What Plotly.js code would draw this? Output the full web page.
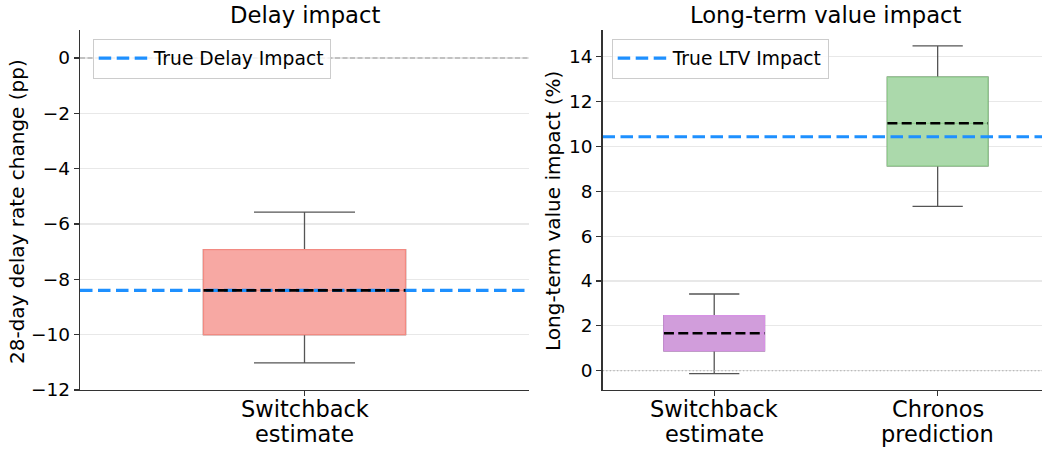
<!DOCTYPE html>
<html><head><meta charset="utf-8">
<script src="https://cdn.plot.ly/plotly-3.0.1.min.js"></script>
<style>html,body{margin:0;padding:0;background:#fff}</style>
</head><body><div id="chart" style="width:1042px;height:449px"></div>
<script>
// ---- Delay impact panel (pp) ----
const delayCategories = ["Switchback<br>estimate"];
const delayPositions = [1];
const delayLowerWhisker = [-11.02];
const delayQ1 = [-10.0];
const delayMedian = [-8.40];
const delayQ3 = [-6.93];
const delayUpperWhisker = [-5.57];
const trueDelayImpact = -8.40;

// ---- Long-term value impact panel (%) ----
const ltvCategories = ["Switchback<br>estimate", "Chronos<br>prediction"];
const ltvPositions = [1, 2];
const ltvLowerWhisker = [-0.13, 7.33];
const ltvQ1 = [0.89, 9.13];
const ltvMedian = [1.67, 11.03];
const ltvQ3 = [2.45, 13.09];
const ltvUpperWhisker = [3.42, 14.48];
const trueLtvImpact = 10.43;

const delayTicks = [-12, -10, -8, -6, -4, -2, 0];
const ltvTicks = [0, 2, 4, 6, 8, 10, 12, 14];

const FONT = 'DejaVu Sans, sans-serif';
const BOXW = 0.45;
const W = 1042, H = 449;

const fills = {
  delay: ['rgba(247,168,163,1)'],
  ltv: ['rgba(209,157,219,1)', 'rgba(171,217,171,1)']
};
const edges = {
  delay: ['rgb(242,138,130)'],
  ltv: ['rgb(214,146,228)', 'rgb(145,206,142)']
};

const traces = [];
function addPanel(xa, ya, pos, lo, q1, med, q3, hi, fillC, edgeC) {
  // whiskers (gray)
  traces.push({type: 'box', xaxis: xa, yaxis: ya, x: pos, q1: q1, median: q1, q3: q3,
    lowerfence: lo, upperfence: hi, width: BOXW, whiskerwidth: 0.5,
    line: {color: '#555555', width: 1.3}, fillcolor: 'rgba(0,0,0,0)',
    boxpoints: false, hoverinfo: 'skip', showlegend: false});
  // filled boxes
  pos.forEach((p, i) => {
    traces.push({type: 'box', xaxis: xa, yaxis: ya, x: [p], q1: [q1[i]], median: [med[i]], q3: [q3[i]],
      lowerfence: [q1[i]], upperfence: [q3[i]], width: BOXW, whiskerwidth: 0,
      line: {color: edgeC[i], width: 1.3}, fillcolor: fillC[i],
      boxpoints: false, hoverinfo: 'skip', showlegend: false});
  });
}
addPanel('x', 'y', delayPositions, delayLowerWhisker, delayQ1, delayMedian, delayQ3, delayUpperWhisker, fills.delay, edges.delay);
addPanel('x2', 'y2', ltvPositions, ltvLowerWhisker, ltvQ1, ltvMedian, ltvQ3, ltvUpperWhisker, fills.ltv, edges.ltv);

// zero reference lines
traces.push({type: 'scatter', mode: 'lines', xaxis: 'x', yaxis: 'y', x: [0.5, 1.5], y: [0, 0],
  line: {color: '#9a9a9a', width: 1.1, dash: '5px,2.5px'}, showlegend: false, hoverinfo: 'skip'});
traces.push({type: 'scatter', mode: 'lines', xaxis: 'x2', yaxis: 'y2', x: [0.5, 2.5], y: [0, 0],
  line: {color: '#aaaaaa', width: 1.1, dash: '1.4px,2.2px'}, showlegend: false, hoverinfo: 'skip'});

// true impact lines
traces.push({type: 'scatter', mode: 'lines', xaxis: 'x', yaxis: 'y', x: [0.5, 1.5], y: [trueDelayImpact, trueDelayImpact],
  name: 'True Delay Impact', legend: 'legend',
  line: {color: '#1E90FF', width: 3.2, dash: '12.5px,5.5px'}, hoverinfo: 'skip'});
traces.push({type: 'scatter', mode: 'lines', xaxis: 'x2', yaxis: 'y2', x: [0.5, 2.5], y: [trueLtvImpact, trueLtvImpact],
  name: 'True LTV Impact', legend: 'legend2',
  line: {color: '#1E90FF', width: 3.2, dash: '12.5px,5.5px'}, hoverinfo: 'skip'});

// median lines (black dashed)
function addMedians(xa, ya, pos, med) {
  pos.forEach((p, i) => {
    traces.push({type: 'scatter', mode: 'lines', xaxis: xa, yaxis: ya,
      x: [p - BOXW / 2, p + BOXW / 2], y: [med[i], med[i]],
      line: {color: '#000000', width: 2.6, dash: '10px,4.3px'}, showlegend: false, hoverinfo: 'skip'});
  });
}
addMedians('x', 'y', delayPositions, delayMedian);
addMedians('x2', 'y2', ltvPositions, ltvMedian);

const axisCommon = {
  showline: true, linecolor: '#333333', linewidth: 1.2, mirror: false,
  ticks: 'outside', ticklen: 5, tickwidth: 1.1, tickcolor: '#333333',
  zeroline: false, fixedrange: true, automargin: false
};
const yCommon = Object.assign({}, axisCommon, {
  showgrid: true, gridcolor: '#e8e8e8', gridwidth: 1.1,
  tickfont: {family: FONT, size: 18.5, color: '#000'}
});
const xCommon = Object.assign({}, axisCommon, {
  showgrid: false, tickmode: 'array', showticklabels: false
});

const legendCommon = {
  xanchor: 'left', yanchor: 'top', bgcolor: 'rgba(255,255,255,0.8)',
  bordercolor: '#cccccc', borderwidth: 1, itemwidth: 50,
  font: {family: FONT, size: 18.7, color: '#000'}
};

const annotations = [
  {text: 'Delay impact', xref: 'x', yref: 'paper', x: 1, y: (H - 15) / H, xanchor: 'center', yanchor: 'middle',
    showarrow: false, font: {family: FONT, size: 22.7, color: '#000'}},
  {text: 'Long-term value impact', xref: 'x2', yref: 'paper', x: 1.5, y: (H - 15) / H, xanchor: 'center', yanchor: 'middle',
    showarrow: false, font: {family: FONT, size: 22.7, color: '#000'}},
  {text: '28-day delay rate change (pp)', xref: 'paper', yref: 'paper', x: 17.5 / W, y: (H - 211.5) / H,
    xanchor: 'center', yanchor: 'middle', textangle: -90, showarrow: false,
    font: {family: FONT, size: 20, color: '#000'}},
  {text: 'Long-term value impact (%)', xref: 'paper', yref: 'paper', x: 553 / W, y: (H - 211) / H,
    xanchor: 'center', yanchor: 'middle', textangle: -90, showarrow: false,
    font: {family: FONT, size: 20, color: '#000'}}
];

// category (x tick) labels, one annotation per text line for matplotlib-like line spacing
const XTICK_SIZE = 22.5;
const lineCenters = [408.6, 433.6];
function addCategoryLabels(xa, pos, cats) {
  pos.forEach((p, i) => {
    cats[i].split('<br>').forEach((ln, j) => {
      annotations.push({text: ln, xref: xa, yref: 'paper', x: p, y: (H - lineCenters[j]) / H,
        xanchor: 'center', yanchor: 'middle', showarrow: false,
        font: {family: FONT, size: XTICK_SIZE, color: '#000'}});
    });
  });
}
addCategoryLabels('x', delayPositions, delayCategories);
addCategoryLabels('x2', ltvPositions, ltvCategories);

const layout = {
  width: W, height: H,
  margin: {l: 0, r: 0, t: 0, b: 0},
  paper_bgcolor: '#ffffff', plot_bgcolor: '#ffffff',
  font: {family: FONT, color: '#000'},
  boxmode: 'overlay',
  xaxis: Object.assign({}, xCommon, {domain: [80 / W, 529 / W], range: [0.5, 1.5],
    tickvals: delayPositions}),
  yaxis: Object.assign({}, yCommon, {domain: [59 / H, 419 / H], range: [-12, 1.01],
    tickvals: delayTicks, ticktext: delayTicks.map(v => v < 0 ? '\u2212' + Math.abs(v) : String(v))}),
  xaxis2: Object.assign({}, xCommon, {domain: [602.5 / W, 1], range: [0.5, 2.467], anchor: 'y2',
    tickvals: ltvPositions}),
  yaxis2: Object.assign({}, yCommon, {domain: [59 / H, 419 / H], range: [-0.86, 15.19], anchor: 'x2',
    tickvals: ltvTicks, ticktext: ltvTicks.map(String)}),
  legend: Object.assign({}, legendCommon, {x: 92.7 / W, y: (H - 38.5) / H}),
  legend2: Object.assign({}, legendCommon, {x: 611.7 / W, y: (H - 38.5) / H}),
  annotations: annotations
};

Plotly.newPlot('chart', traces, layout, {displayModeBar: false, staticPlot: true});
</script>
</body></html>
